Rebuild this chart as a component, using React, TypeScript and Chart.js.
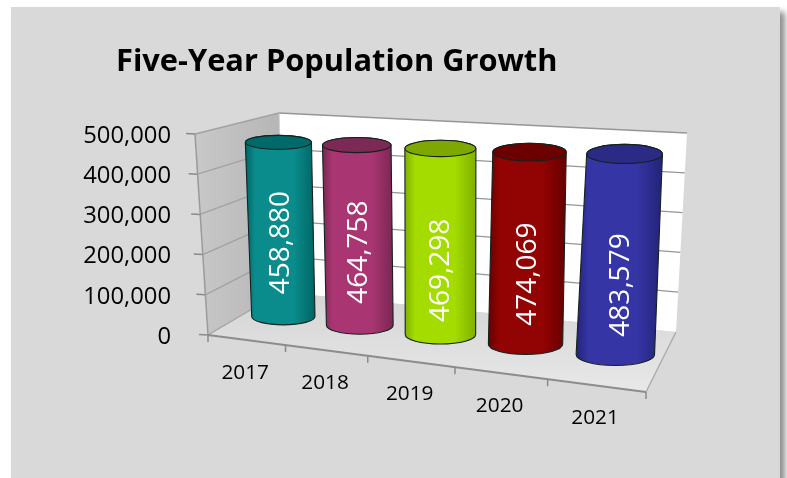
import React, { useEffect, useRef } from "react";
import { Chart, registerables } from "chart.js";

Chart.register(...registerables);

const categories = ["2017", "2018", "2019", "2020", "2021"];
const population = [458880, 464758, 469298, 474069, 483579];
const axisTicks = [0, 100000, 200000, 300000, 400000, 500000];
const chartTitle = "Five-Year Population Growth";

const bodyColors = ["#0a8c8c", "#a93672", "#a4dc00", "#920303", "#3535a6"];
const edgeColors = ["#006464", "#7a2652", "#80b000", "#640000", "#232376"];
const capColors = ["#006a6b", "#7c2a55", "#7ea800", "#6c0000", "#2b2b86"];
const labelDrop = [14, 18, 30, 27, 32];

const FONT = "'Open Sans'";

type Pt = { x: number; y: number };

// Maps the unit square onto a quadrilateral, so the box keeps its perspective.
function quadMap(p00: Pt, p10: Pt, p11: Pt, p01: Pt) {
  const dx1 = p10.x - p11.x, dx2 = p01.x - p11.x, sx = p00.x - p10.x + p11.x - p01.x;
  const dy1 = p10.y - p11.y, dy2 = p01.y - p11.y, sy = p00.y - p10.y + p11.y - p01.y;
  const den = dx1 * dy2 - dx2 * dy1;
  const g = (sx * dy2 - dx2 * sy) / den;
  const h = (dx1 * sy - sx * dy1) / den;
  const a = p10.x - p00.x + g * p10.x, b = p01.x - p00.x + h * p01.x;
  const d = p10.y - p00.y + g * p10.y, e = p01.y - p00.y + h * p01.y;
  return (u: number, w: number): Pt => {
    const q = g * u + h * w + 1;
    return { x: (a * u + b * w + p00.x) / q, y: (d * u + e * w + p00.y) / q };
  };
}

const floorMap = quadMap({ x: 208, y: 335 }, { x: 646, y: 392 }, { x: 676, y: 332 }, { x: 281, y: 292 });
const roofMap = quadMap({ x: 195, y: 134 }, { x: 664, y: 165 }, { x: 687, y: 133 }, { x: 279, y: 113 });

// Position in the box: u along the categories, w into the depth, t up the value axis.
function project(u: number, w: number, t: number): Pt {
  const uf = u + 0.075 * u * (1 - u);
  const ur = u + 0.1 * u * (1 - u);
  const f = floorMap(uf, w), r = roofMap(ur, w);
  return { x: f.x + (r.x - f.x) * t, y: f.y + (r.y - f.y) * t };
}

function polygon(ctx: CanvasRenderingContext2D, pts: Pt[]) {
  ctx.beginPath();
  pts.forEach((p, i) => (i ? ctx.lineTo(p.x, p.y) : ctx.moveTo(p.x, p.y)));
  ctx.closePath();
}

function segment(ctx: CanvasRenderingContext2D, a: Pt, b: Pt, color: string, width: number) {
  ctx.strokeStyle = color;
  ctx.lineWidth = width;
  ctx.beginPath();
  ctx.moveTo(a.x, a.y);
  ctx.lineTo(b.x, b.y);
  ctx.stroke();
}

// A level ring of the cylinder, kept flat on screen rather than sheared by the box.
function ring(u: number, t: number) {
  const ru = 0.085 + t * (0.0018 - 0.012 * u);
  const rw = 0.19 + 0.11 * t;
  const wMid = 0.5 - 0.08 * t;
  const c = project(u, wMid, t);
  c.x += 7 * t * (1 - u);
  const a = (project(u + ru, wMid, t).x - project(u - ru, wMid, t).x) / 2;
  const b = (project(u, wMid - rw, t).y - project(u, wMid + rw, t).y) / 2;
  return { c, a, b };
}

const box3d = {
  id: "box3d",
  beforeDatasetsDraw(chart: any) {
    const { ctx, scales } = chart;
    const yScale = scales.y;
    const tOf = (v: number) => (yScale.bottom - yScale.getPixelForValue(v)) / (yScale.bottom - yScale.top);
    ctx.save();

    const A = project(0, 0, 0), B = project(0, 1, 0), C = project(1, 1, 0), D = project(1, 0, 0);
    const E = project(0, 0, 1), F = project(0, 1, 1), G = project(1, 1, 1);

    const wall = ctx.createLinearGradient(E.x, 0, F.x, 0);
    wall.addColorStop(0, "#c8c8c8");
    wall.addColorStop(1, "#b6b6b6");
    ctx.fillStyle = wall;
    polygon(ctx, [A, B, F, E]);
    ctx.fill();

    ctx.fillStyle = "#ffffff";
    polygon(ctx, [B, C, G, F]);
    ctx.fill();

    const floor = ctx.createLinearGradient(0, 292, 0, 392);
    floor.addColorStop(0, "#d4d4d4");
    floor.addColorStop(1, "#e8e8e8");
    ctx.fillStyle = floor;
    polygon(ctx, [A, D, C, B]);
    ctx.fill();

    yScale.ticks.forEach((tick: any) => {
      const t = tOf(tick.value);
      const a = project(0, 0, t), b = project(0, 1, t), c = project(1, 1, t);
      segment(ctx, a, b, "#a2a2a2", 1.3);
      if (t > 0) segment(ctx, b, c, "#969696", 1.3);
      segment(ctx, { x: a.x - 9, y: a.y - 0.5 }, a, "#8a8a8a", 1.5);
    });

    segment(ctx, A, E, "#9a9a9a", 1.5);
    segment(ctx, B, F, "#bdbdbd", 1);
    segment(ctx, A, D, "#8c8c8c", 1.8);
    segment(ctx, D, C, "#a6a6a6", 1.3);

    for (let i = 0; i <= categories.length; i++) {
      const p = project(i / categories.length, 0, 0);
      segment(ctx, p, { x: p.x, y: p.y + 7 }, "#8a8a8a", 1.5);
    }

    ctx.fillStyle = "#000000";
    ctx.font = `20.8px ${FONT}`;
    ctx.textAlign = "center";
    ctx.textBaseline = "middle";
    categories.forEach((label, i) => {
      const p = project((i + 0.5) / categories.length, 0, 0);
      ctx.fillText(label, p.x - 1, p.y + 33);
    });

    ctx.font = `bold 30.8px ${FONT}`;
    ctx.textAlign = "left";
    ctx.fillText(chartTitle, 116, 62);
    ctx.restore();
  },
  afterDatasetsDraw(chart: any) {
    const { ctx, chartArea } = chart;
    const meta = chart.getDatasetMeta(0);
    const span = chartArea.right - chartArea.left;
    const height = chartArea.bottom - chartArea.top;
    ctx.save();
    meta.data.forEach((bar: any, i: number) => {
      const u = (bar.x - chartArea.left) / span;
      const t = (chartArea.bottom - bar.y) / height;
      const base = ring(u, 0);
      const cap = ring(u, t);

      // Side of the cylinder: front of the base ellipse, then the back of the cap.
      ctx.beginPath();
      ctx.ellipse(base.c.x, base.c.y, base.a, base.b, 0, 0, Math.PI);
      ctx.lineTo(cap.c.x - cap.a, cap.c.y);
      ctx.ellipse(cap.c.x, cap.c.y, cap.a, cap.b, 0, Math.PI, Math.PI * 2);
      ctx.closePath();

      const minX = Math.min(base.c.x - base.a, cap.c.x - cap.a);
      const maxX = Math.max(base.c.x + base.a, cap.c.x + cap.a);
      const shade = ctx.createLinearGradient(minX, 0, maxX, 0);
      shade.addColorStop(0, edgeColors[i]);
      shade.addColorStop(0.14, bodyColors[i]);
      shade.addColorStop(0.7, bodyColors[i]);
      shade.addColorStop(1, edgeColors[i]);
      ctx.fillStyle = shade;
      ctx.fill();
      ctx.strokeStyle = "#14221f";
      ctx.lineWidth = 1.1;
      ctx.stroke();

      ctx.beginPath();
      ctx.ellipse(cap.c.x, cap.c.y, cap.a, cap.b, 0, 0, Math.PI * 2);
      ctx.fillStyle = capColors[i];
      ctx.fill();
      ctx.stroke();

      const mid = project(u, 0.5, t / 2);
      ctx.save();
      ctx.translate(mid.x, mid.y + labelDrop[i]);
      ctx.rotate(-Math.PI / 2);
      ctx.fillStyle = "#ffffff";
      ctx.font = `28px ${FONT}`;
      ctx.textAlign = "center";
      ctx.textBaseline = "middle";
      ctx.fillText(population[i].toLocaleString("en-US"), 0, 0);
      ctx.restore();
    });
    ctx.restore();
  },
};

export default function App() {
  const canvasRef = useRef<HTMLCanvasElement>(null);

  useEffect(() => {
    document.body.style.margin = "0";
    const chart = new Chart(canvasRef.current!, {
      type: "bar",
      data: {
        labels: categories,
        datasets: [{ data: population, backgroundColor: "rgba(0,0,0,0)", borderWidth: 0 }],
      },
      options: {
        animation: false,
        responsive: false,
        events: [],
        layout: { padding: { left: 0, top: 136, right: 141, bottom: 141 } },
        plugins: { legend: { display: false }, tooltip: { enabled: false } },
        scales: {
          x: { display: false },
          y: {
            min: 0,
            max: 500000,
            border: { display: false },
            grid: { display: false },
            afterFit: (s: any) => { s.width = 190; },
            afterBuildTicks: (s: any) => { s.ticks = axisTicks.map((value) => ({ value })); },
            ticks: {
              color: "#000000",
              padding: 11,
              font: { family: "Open Sans", size: 23.8 },
              callback: (v: any) => Number(v).toLocaleString("en-US"),
            },
          },
        },
      },
      plugins: [box3d],
    } as any);
    return () => chart.destroy();
  }, []);

  return (
    <div style={{ position: "relative", width: 787, height: 478, overflow: "hidden", background: "#ffffff" }}>
      <div
        style={{
          position: "absolute",
          left: 11,
          top: 7,
          width: 769,
          height: 500,
          background: "#d9d9d9",
          boxShadow: "5px 5px 6px rgba(0,0,0,0.45)",
        }}
      />
      <canvas ref={canvasRef} width={787} height={478} style={{ position: "absolute", left: 0, top: 0 }} />
    </div>
  );
}
